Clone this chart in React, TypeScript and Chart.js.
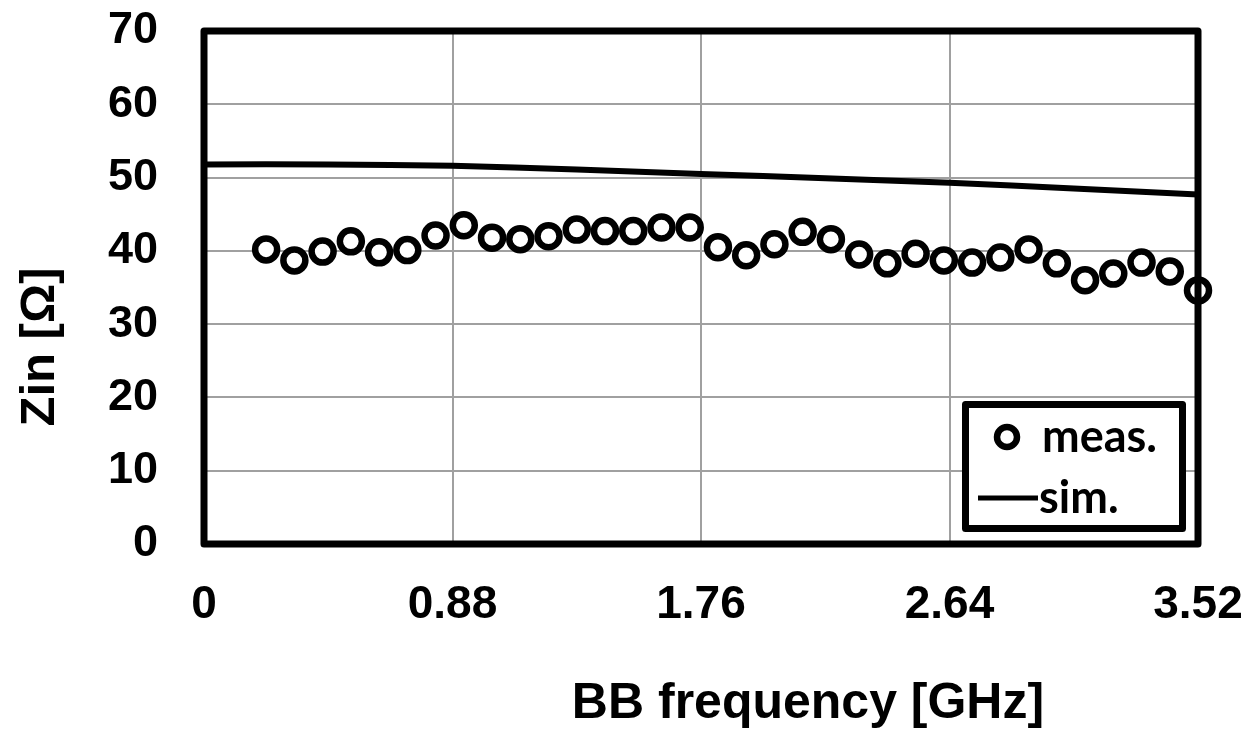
import React, { useEffect, useRef } from "react";
import { Chart, registerables } from "chart.js";

Chart.register(...registerables);

// Measured input impedance (circles)
const measFreq = [
  0.22, 0.32, 0.42, 0.52, 0.62, 0.72, 0.82, 0.92, 1.02, 1.12, 1.22, 1.32,
  1.42, 1.52, 1.62, 1.72, 1.82, 1.92, 2.02, 2.12, 2.22, 2.32, 2.42, 2.52,
  2.62, 2.72, 2.82, 2.92, 3.02, 3.12, 3.22, 3.32, 3.42, 3.52,
];
const measZin = [
  40.2, 38.7, 39.9, 41.3, 39.8, 40.1, 42.1, 43.5, 41.8, 41.6, 42.0, 42.9,
  42.7, 42.7, 43.2, 43.2, 40.5, 39.4, 40.9, 42.6, 41.6, 39.5, 38.3, 39.6,
  38.7, 38.4, 39.1, 40.2, 38.3, 36.0, 36.9, 38.4, 37.2, 34.6,
];

// Simulated input impedance (line)
const simFreq = [0, 0.44, 0.88, 1.32, 1.76, 2.2, 2.64, 3.08, 3.52];
const simZin = [51.8, 51.8, 51.6, 51.1, 50.5, 49.9, 49.3, 48.5, 47.7];

const xTicks = [0, 0.88, 1.76, 2.64, 3.52];
const xTickLabels = ["0", "0.88", "1.76", "2.64", "3.52"];
const yTicks = [0, 10, 20, 30, 40, 50, 60, 70];

const xTitle = "BB frequency [GHz]";
const yTitle = "Zin [\u03A9]";
const legendMeas = "meas.";
const legendSim = "sim.";

const AXIS_FONT = "'Liberation Sans', Arial, sans-serif";
const LEGEND_FONT = "Lato, 'Open Sans', sans-serif";

const overlayPlugin = {
  id: "overlay",
  afterDraw(chart: any) {
    const ctx = chart.ctx as CanvasRenderingContext2D;
    const a = chart.chartArea;
    ctx.save();
    // frame
    ctx.strokeStyle = "#000";
    ctx.lineWidth = 7;
    ctx.lineJoin = "round";
    ctx.strokeRect(a.left, a.top, a.right - a.left, a.bottom - a.top);

    // legend
    const bx = 965.5, by = 404.5, bw = 217, bh = 124;
    ctx.fillStyle = "#fff";
    ctx.fillRect(bx, by, bw, bh);
    ctx.lineWidth = 7;
    ctx.strokeRect(bx, by, bw, bh);
    ctx.beginPath();
    ctx.arc(1007, 437, 10, 0, Math.PI * 2);
    ctx.lineWidth = 6.5;
    ctx.stroke();
    ctx.beginPath();
    ctx.moveTo(978, 498);
    ctx.lineTo(1038, 498);
    ctx.lineWidth = 5;
    ctx.stroke();
    ctx.fillStyle = "#000";
    ctx.font = `bold 45px ${LEGEND_FONT}`;
    ctx.textAlign = "left";
    ctx.textBaseline = "alphabetic";
    ctx.fillText(legendMeas, 1042, 452);
    ctx.fillText(legendSim, 1039, 513);

    // axis titles
    ctx.font = `bold 50px ${AXIS_FONT}`;
    ctx.textAlign = "center";
    ctx.textBaseline = "middle";
    ctx.fillText(xTitle, 808, 704);
    ctx.save();
    ctx.translate(40, 347);
    ctx.rotate(-Math.PI / 2);
    ctx.font = `bold 49px ${AXIS_FONT}`;
    ctx.fillText(yTitle, 0, 0);
    ctx.restore();
    ctx.restore();
  },
};

export default function App() {
  const ref = useRef<HTMLCanvasElement | null>(null);
  useEffect(() => {
    if (!ref.current) return;
    const chart = new Chart(ref.current, {
      type: "scatter",
      data: {
        datasets: [
          {
            label: legendSim,
            data: simFreq.map((x, i) => ({ x, y: simZin[i] })),
            showLine: true,
            borderColor: "#000",
            borderWidth: 6,
            pointRadius: 0,
            tension: 0.3,
            order: 2,
          },
          {
            label: legendMeas,
            data: measFreq.map((x, i) => ({ x, y: measZin[i] })),
            showLine: false,
            pointStyle: "circle",
            pointRadius: 11,
            pointBorderWidth: 6.5,
            pointBorderColor: "#000",
            pointBackgroundColor: "#fff",
            clip: false,
            order: 1,
          },
        ],
      },
      options: {
        responsive: false,
        animation: false,
        layout: { padding: { top: 31, right: 53, left: 0, bottom: 0 } },
        plugins: {
          legend: { display: false },
          tooltip: { enabled: false },
        },
        scales: {
          x: {
            type: "linear",
            min: 0,
            max: 3.52,
            afterBuildTicks: (s: any) => {
              s.ticks = xTicks.map((v) => ({ value: v }));
            },
            afterFit: (s: any) => {
              s.height = 185;
              s.paddingLeft = 0;
              s.paddingRight = 0;
            },
            ticks: {
              callback: (v: any) => {
                const i = xTicks.indexOf(Number(v));
                return i >= 0 ? xTickLabels[i] : "";
              },
              font: { family: AXIS_FONT, size: 46, weight: "bold" },
              color: "#000",
              padding: 34,
              maxRotation: 0,
              autoSkip: false,
            },
            grid: { color: "#a0a0a0", lineWidth: 2, drawTicks: false },
            border: { display: false },
          },
          y: {
            type: "linear",
            min: 0,
            max: 70,
            afterBuildTicks: (s: any) => {
              s.ticks = yTicks.map((v) => ({ value: v }));
            },
            afterFit: (s: any) => {
              s.width = 204;
              s.paddingTop = 0;
              s.paddingBottom = 0;
            },
            ticks: {
              font: { family: AXIS_FONT, size: 45, weight: "bold" },
              color: "#000",
              padding: 46,
              autoSkip: false,
            },
            grid: { color: "#a0a0a0", lineWidth: 2, drawTicks: false },
            border: { display: false },
          },
        },
      },
      plugins: [overlayPlugin],
    });
    return () => chart.destroy();
  }, []);
  return (
    <div style={{ position: "absolute", left: 0, top: 0, width: 1251, height: 729, background: "#fff" }}>
      <canvas ref={ref} width={1251} height={729} />
    </div>
  );
}
